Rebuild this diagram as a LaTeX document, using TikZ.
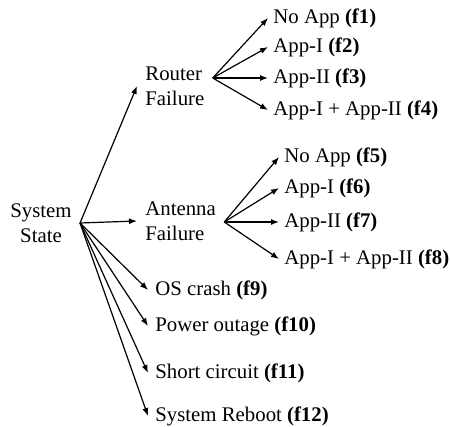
\documentclass[tikz,border=0pt]{standalone}
\usepackage{fontspec}
\setmainfont{Liberation Serif}
\usetikzlibrary{
    arrows.meta,
    positioning,
    calc
}

\begin{document}
\begin{tikzpicture}[x=0.5pt,y=-0.5pt,
        every node/.style={font=\fontsize{10.4}{12.4}\selectfont},
        state/.style={align=left,inner xsep=4pt,inner ysep=1pt},
        leaf/.style={anchor=west,inner xsep=2.5pt,inner ysep=1pt},
        arr/.style={-{Latex[length=4pt,width=3pt]},semithick}]
                \useasboundingbox (0,0) rectangle (450,427);
                % failure classes
                \node[state,align=center] (sys) at (41,223) {System\\State};
                \node[state,anchor=west] (router) at (137,86) {Router\\Failure};
                \node[state,anchor=west] (antenna) at (137,221) {Antenna\\Failure};
                \coordinate (rfork) at ($(router.east)+(0,-8)$);
                \coordinate (afork) at ($(antenna.east)+(0,1)$);
                % leaves
                \foreach \n/\y/\t in {1/18/No App,2/47/App-I,3/78/App-II,4/110/App-I + App-II} \node[leaf] (f\n) at (268,\y) {\t{} \textbf{(f\n)}};
                \foreach \n/\y/\t in {5/157/No App,6/188/App-I,7/222/App-II,8/259/App-I + App-II} \node[leaf] (f\n) at (279,\y) {\t{} \textbf{(f\n)}};
                \foreach \n/\y/\t in {9/290/OS crash,10/326/Power outage,11/373/Short circuit,12/416/System Reboot} \node[leaf,inner xsep=3.5pt] (f\n) at (148,\y) {\t{} \textbf{(f\n)}};
                % arrows
                \foreach \t in {router,antenna,f9,f10,f11,f12} \draw[arr] (sys.east) -- (\t.west);
                \foreach \n in {1,...,4} \draw[arr] (rfork) -- (f\n.west);
                \foreach \n in {5,...,8} \draw[arr] (afork) -- (f\n.west);
            \end{tikzpicture}
\end{document}
